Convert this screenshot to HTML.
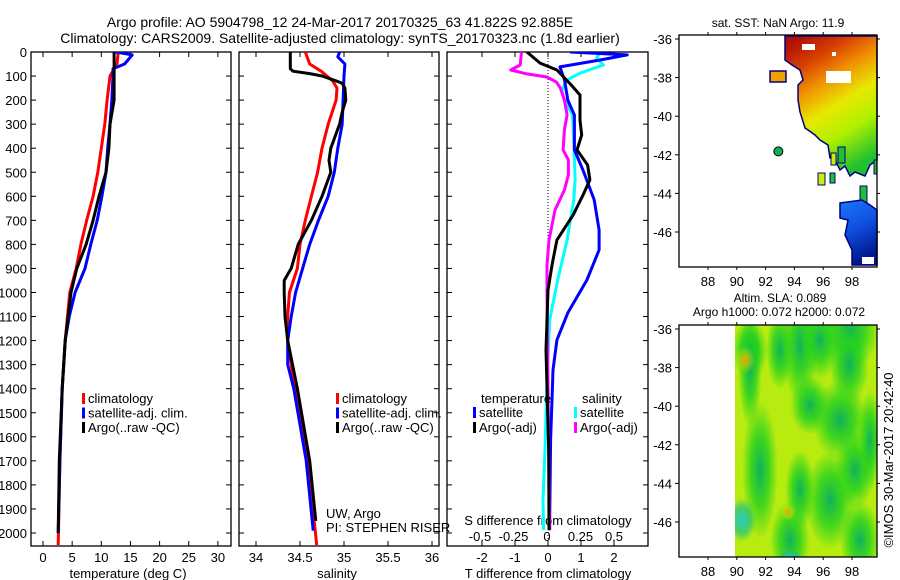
<!DOCTYPE html>
<html><head><meta charset="utf-8"><style>
body{margin:0;background:#fff}
svg{display:block;font-family:"Liberation Sans",sans-serif}
text{fill:#000}
</style></head><body>
<svg id="c" width="900" height="580" xmlns="http://www.w3.org/2000/svg">
<defs>
<linearGradient id="sstg" x1="0.2" y1="0" x2="0.6" y2="1">
<stop offset="0" stop-color="#b01000"/><stop offset="0.18" stop-color="#d84000"/><stop offset="0.35" stop-color="#f09000"/><stop offset="0.55" stop-color="#e8e800"/><stop offset="0.75" stop-color="#b0f000"/><stop offset="1" stop-color="#20c030"/></linearGradient>
<linearGradient id="blueg" x1="0" y1="0" x2="0.3" y2="1"><stop offset="0" stop-color="#1878ff"/><stop offset="0.5" stop-color="#1050e0"/><stop offset="1" stop-color="#001890"/></linearGradient>
<radialGradient id="gb"><stop offset="0" stop-color="#10b060"/><stop offset="0.5" stop-color="#20d020" stop-opacity="0.8"/><stop offset="1" stop-color="#20d020" stop-opacity="0"/></radialGradient>
<radialGradient id="cb"><stop offset="0" stop-color="#20d0d0"/><stop offset="0.6" stop-color="#20c080" stop-opacity="0.7"/><stop offset="1" stop-color="#20c080" stop-opacity="0"/></radialGradient>
<radialGradient id="ob"><stop offset="0" stop-color="#f0a000"/><stop offset="1" stop-color="#e0f000" stop-opacity="0"/></radialGradient>
<clipPath id="clipT"><rect x="31" y="52" width="200" height="494"/></clipPath>
<clipPath id="clipS"><rect x="239" y="52" width="200" height="494"/></clipPath>
<clipPath id="clipD"><rect x="447" y="52" width="201" height="494"/></clipPath>
<clipPath id="clipM2"><rect x="735" y="325" width="142" height="232"/></clipPath>
</defs>
<text x="340" y="27" font-size="14" text-anchor="middle">Argo profile: AO 5904798_12 24-Mar-2017 20170325_63 41.822S 92.885E</text>
<text x="340" y="43" font-size="14" text-anchor="middle">Climatology: CARS2009. Satellite-adjusted climatology: synTS_20170323.nc (1.8d earlier)</text>
<g id="g"></g>
</svg>
<script>
// ---- data ----
const depthTicks=[0,100,200,300,400,500,600,700,800,900,1000,1100,1200,1300,1400,1500,1600,1700,1800,1900,2000];
const tempTicks=[0,5,10,15,20,25,30];
const salTicks=[34,34.5,35,35.5,36];
const tdTicks=[-2,-1,0,1,2];
const sdTicks=[-0.5,-0.25,0,0.25,0.5];
const sdTickLabels=["-0.5","-0.25","0","0.25","0.5"];
const latTicks=[-36,-38,-40,-42,-44,-46];
const lonTicks=[88,90,92,94,96,98];

const tClimDepth=[0,50,100,200,300,400,500,600,700,800,900,1000,1200,1400,1700,2050];
const tClimVal=[12.9,12.7,11.5,11,10.6,10,9.4,8.6,7.5,6.5,5.7,4.6,3.8,3.3,2.9,2.6];
const tSatDepth=[0,12,50,70,100,200,300,400,500,600,700,800,900,1000,1100,1200,1400,1700,2000];
const tSatVal=[12.5,15.3,14,12,12,11.8,11.5,11.1,10.8,10.1,9.3,8.2,7.2,5.5,4.5,3.8,3.3,2.9,2.6];
const tArgoDepth=[0,100,200,300,400,500,600,700,800,900,1000,1200,1400,1700,2000];
const tArgoVal=[12.2,12.2,12.2,11.5,11.3,10.8,9.6,8.6,7.4,5.8,4.8,3.8,3.3,2.8,2.6];

const sClimDepth=[0,50,80,120,150,200,300,400,500,600,700,800,900,1000,1100,1200,1400,1700,2050];
const sClimVal=[34.56,34.61,34.74,34.87,34.92,34.91,34.82,34.75,34.70,34.63,34.56,34.50,34.47,34.38,34.36,34.36,34.44,34.59,34.69];
const sSatDepth=[0,20,50,100,200,300,400,500,600,700,800,900,1000,1100,1200,1300,1400,1700,1990];
const sSatVal=[34.95,34.93,35.01,35.0,34.99,34.98,34.93,34.89,34.82,34.71,34.61,34.53,34.45,34.40,34.36,34.36,34.43,34.57,34.65];
const sArgoDepth=[0,70,80,90,100,120,130,150,200,250,300,400,450,500,600,700,800,900,950,1000,1100,1200,1400,1700,1950];
const sArgoVal=[34.39,34.39,34.42,34.61,34.75,34.91,34.98,35.01,35.02,34.98,34.95,34.85,34.83,34.85,34.75,34.63,34.48,34.40,34.32,34.32,34.33,34.36,34.47,34.61,34.68];

const dtSatDepth=[0,12,33,62,116,200,262,407,491,615,740,823,948,1085,1198,1322,1447,1613,1988];
const dtSatVal=[0.67,2.4,1.6,0.36,0.5,0.6,0.8,0.8,1.06,1.4,1.55,1.55,1.18,0.6,0.27,0.15,0.12,0.08,0.05];
const dtArgoDepth=[0,46,75,137,179,283,345,407,470,532,595,678,782,886,990,1239,1655,1988];
const dtArgoVal=[-0.64,-0.24,0.27,0.7,0.97,0.97,1.02,0.88,1.2,1.27,1.06,0.76,0.27,0.12,0,-0.06,0.02,0.03];
const dsSatDepth=[0,25,54,87,116,158,200,262,366,532,615,782,948,1114,1364,1655,1863,1988];
const dsSatVal=[0.40,0.37,0.42,0.25,0.15,0.11,0.13,0.19,0.2,0.21,0.2,0.15,0.08,0.02,0,-0.015,-0.03,-0.025];
const dsArgoDepth=[0,54,75,91,104,125,150,200,262,324,407,449,511,574,657,782,886,990,1500,1988];
const dsArgoVal=[-0.19,-0.2,-0.27,-0.15,0,0.07,0.1,0.13,0.15,0.13,0.12,0.16,0.16,0.13,0.06,0.015,0,0,0.01,0.02];

const argoLon=[92.885];
const argoLat=[-41.822];

// ---- scales ----
const yD=d=>52+d*0.2405;
const xT=v=>43+v*5.83;
const xS=v=>256+(v-34)*88;
const xDT=v=>548+v*33;
const xDS=v=>547+v*134;
const mx=v=>708+(v-88)*14.4;
const my1=v=>39+(-36-v)*19.3;
const my2=v=>329+(-36-v)*19.3;

const NS='http://www.w3.org/2000/svg';
const G=document.getElementById('g');
function mk(tag,attrs,parent){const e=document.createElementNS(NS,tag);for(const k in attrs)e.setAttribute(k,attrs[k]);(parent||G).appendChild(e);return e;}
function txt(x,y,s,size,anchor,parent){const e=mk('text',{x:x,y:y,'font-size':size,'text-anchor':anchor||'start'},parent);e.textContent=s;return e;}

// panels
const panels=[[31,231,'temperature-panel'],[239,439,'salinity-panel'],[447,648,'difference-panel']];
panels.forEach(p=>{
  const r=mk('rect',{x:p[0],y:52,width:p[1]-p[0],height:494,fill:'none',stroke:'#000','stroke-width':1.3});
  
  
  depthTicks.forEach(d=>{
    mk('line',{x1:p[0],x2:p[0]+5,y1:yD(d),y2:yD(d),stroke:'#000'});
    mk('line',{x1:p[1],x2:p[1]-5,y1:yD(d),y2:yD(d),stroke:'#000'});
  });
});
depthTicks.forEach(d=>{
  const t=txt(27,yD(d)+5,String(d),13,'end');
  
  
});
function xTicks(vals,labels,sc,yl,name){
  vals.forEach((v,i)=>{
    const x=sc(v);
    mk('line',{x1:x,x2:x,y1:52,y2:57,stroke:'#000'});
    mk('line',{x1:x,x2:x,y1:546,y2:541,stroke:'#000'});
    const t=txt(x,yl,labels[i],13,'middle');
    
    
  });
}
xTicks(tempTicks,tempTicks.map(String),xT,562,'temperature-tick-label');
xTicks(salTicks,salTicks.map(String),xS,562,'salinity-tick-label');
xTicks(tdTicks,tdTicks.map(String),xDT,562,'t-diff-tick-label');
sdTicks.forEach((v,i)=>{
  const t=txt(xDS(v),541,sdTickLabels[i],13,'middle');
  
  
});
[[128,'temperature (deg C)','temperature-axis-title'],[337,'salinity','salinity-axis-title'],[548,'T difference from climatology','t-diff-axis-title']].forEach(a=>{
  const t=txt(a[0],578,a[1],13,'middle');
  
  
});
{const t=txt(548,525,'S difference from climatology',13,'middle');

}

// zero dotted line
{const l=mk('line',{x1:xDT(0),x2:xDT(0),y1:52,y2:546,stroke:'#000','stroke-dasharray':'1,2'});

}

function series(dep,val,sc,color,clip,name){
  const pts=dep.map((d,i)=>sc(val[i]).toFixed(1)+','+yD(d).toFixed(1)).join(' ');
  const p=mk('polyline',{points:pts,fill:'none',stroke:color,'stroke-width':3,'clip-path':'url(#'+clip+')','stroke-linejoin':'round'});
  
  
}
series(tClimDepth,tClimVal,xT,'#ff0000','clipT','temp-climatology-line');
series(tSatDepth,tSatVal,xT,'#0000ff','clipT','temp-satellite-line');
series(tArgoDepth,tArgoVal,xT,'#000000','clipT','temp-argo-line');
series(sClimDepth,sClimVal,xS,'#ff0000','clipS','sal-climatology-line');
series(sSatDepth,sSatVal,xS,'#0000ff','clipS','sal-satellite-line');
series(sArgoDepth,sArgoVal,xS,'#000000','clipS','sal-argo-line');
series(dsSatDepth,dsSatVal,xDS,'#00ffff','clipD','s-diff-satellite-line');
series(dtSatDepth,dtSatVal,xDT,'#0000ff','clipD','t-diff-satellite-line');
series(dsArgoDepth,dsArgoVal,xDS,'#ff00ff','clipD','s-diff-argo-line');
series(dtArgoDepth,dtArgoVal,xDT,'#000000','clipD','t-diff-argo-line');

// legends
function leg(x,y,color,label){
  mk('rect',{x:x,y:y-10,width:3,height:11,fill:color});
  const t=txt(x+6,y,label,13,'start');
  
  
}
[[83,'climatology','#ff0000'],[83,'satellite-adj. clim.','#0000ff'],[83,'Argo(..raw -QC)','#000']].forEach((e,i)=>{leg(82,403+i*14.5,e[2],e[1]);leg(336,403+i*14.5,e[2],e[1]);});
{const t=txt(481,403,'temperature',13,'start');}
{const t=txt(582,403,'salinity',13,'start');}
leg(473,417,'#0000ff','satellite');leg(473,432,'#000','Argo(-adj)');
leg(574,417,'#00ffff','satellite');leg(574,432,'#ff00ff','Argo(-adj)');
{const t=txt(326,518,'UW, Argo',13,'start');}
{const t=txt(326,532,'PI: STEPHEN RISER',13,'start');}

// ---- maps ----
function mapFrame(y0,y1,my,name){
  const r=mk('rect',{x:679,y:y0,width:198,height:y1-y0,fill:'none',stroke:'#000','stroke-width':1.3});
  
  
  latTicks.forEach(v=>{
    mk('line',{x1:675,x2:679,y1:my(v),y2:my(v),stroke:'#000'});
    mk('line',{x1:877,x2:880,y1:my(v),y2:my(v),stroke:'#000'});
    const t=txt(672,my(v)+5,String(v),13,'end');
    
    
  });
  lonTicks.forEach(v=>{
    mk('line',{x1:mx(v),x2:mx(v),y1:y0,y2:y0-3,stroke:'#000'});
    mk('line',{x1:mx(v),x2:mx(v),y1:y1,y2:y1+3,stroke:'#000'});
    const t=txt(mx(v),y1+19,String(v),13,'middle');
    
    
  });
}
// SST map content
{const p=mk('polygon',{points:'785,36 877,36 877,160 870,165 865,176 855,172 850,176 845,166 840,170 835,160 830,158 828,145 820,140 815,135 808,130 805,128 800,112 798,100 798,85 803,80 800,70 792,65 785,60',fill:'url(#sstg)',stroke:'#000080','stroke-width':1.5});
}
mk('rect',{x:770,y:71,width:16,height:11,fill:'#f0a000',stroke:'#000080','stroke-width':1.5});
[[802,44,13,6],[826,71,25,12],[832,52,4,4]].forEach(r=>mk('rect',{x:r[0],y:r[1],width:r[2],height:r[3],fill:'#fff'}));
[[831,153,5,12,'#c8f000'],[838,147,7,16,'#20c030'],[818,173,7,12,'#c8f000'],[830,173,5,10,'#20c030'],[860,186,7,20,'#20c030'],[874,160,3,14,'#20c030']].forEach(r=>mk('rect',{x:r[0],y:r[1],width:r[2],height:r[3],fill:r[4],stroke:'#000080','stroke-width':1}));
{const p=mk('polygon',{points:'840,203 862,200 870,205 877,210 877,265 852,265 852,250 845,235 848,220 840,218',fill:'url(#blueg)',stroke:'#000080','stroke-width':1.5});
}
mk('rect',{x:862,y:257,width:12,height:7,fill:'#fff'});
{const c=mk('circle',{cx:mx(argoLon[0]),cy:my1(argoLat[0]),r:4.5,fill:'#10b050',stroke:'#000','stroke-width':1});
}
mapFrame(35,267,my1,'sst-map');
{const t=txt(778,27,'sat. SST: NaN Argo: 11.9',12,'middle');}

// SLA map
{const r=mk('rect',{x:735,y:325,width:142,height:232,fill:'#b8ec10'});}
const g2=mk('g',{'clip-path':'url(#clipM2)'});
[[750,350,18,30],[750,368,12,60],[780,350,14,40],[800,345,18,60],[820,340,20,40],[850,330,30,40],[849,365,20,40],[810,405,20,30],[840,420,28,40],[855,470,20,40],[760,470,18,70],[800,490,15,40],[830,500,25,50],[790,540,20,40],[860,540,20,40],[870,440,12,50]].forEach(b=>mk('ellipse',{cx:b[0],cy:b[1],rx:b[2],ry:b[3],fill:'url(#gb)'},g2));
[[742,520,14,22],[790,557,12,8]].forEach(b=>mk('ellipse',{cx:b[0],cy:b[1],rx:b[2],ry:b[3],fill:'url(#cb)'},g2));
[[788,512,8,8],[745,360,10,14]].forEach(b=>mk('ellipse',{cx:b[0],cy:b[1],rx:b[2],ry:b[3],fill:'url(#ob)'},g2));
mapFrame(325,557,my2,'sla-map');
{const t=txt(780,302,'Altim. SLA: 0.089',12,'middle');}
{const t=txt(779,316,'Argo h1000: 0.072 h2000: 0.072',12,'middle');}
{const t=txt(0,0,'©IMOS 30-Mar-2017 20:42:40',13,'middle');t.setAttribute('transform','translate(893,460) rotate(-90)');}
</script>
</body></html>
